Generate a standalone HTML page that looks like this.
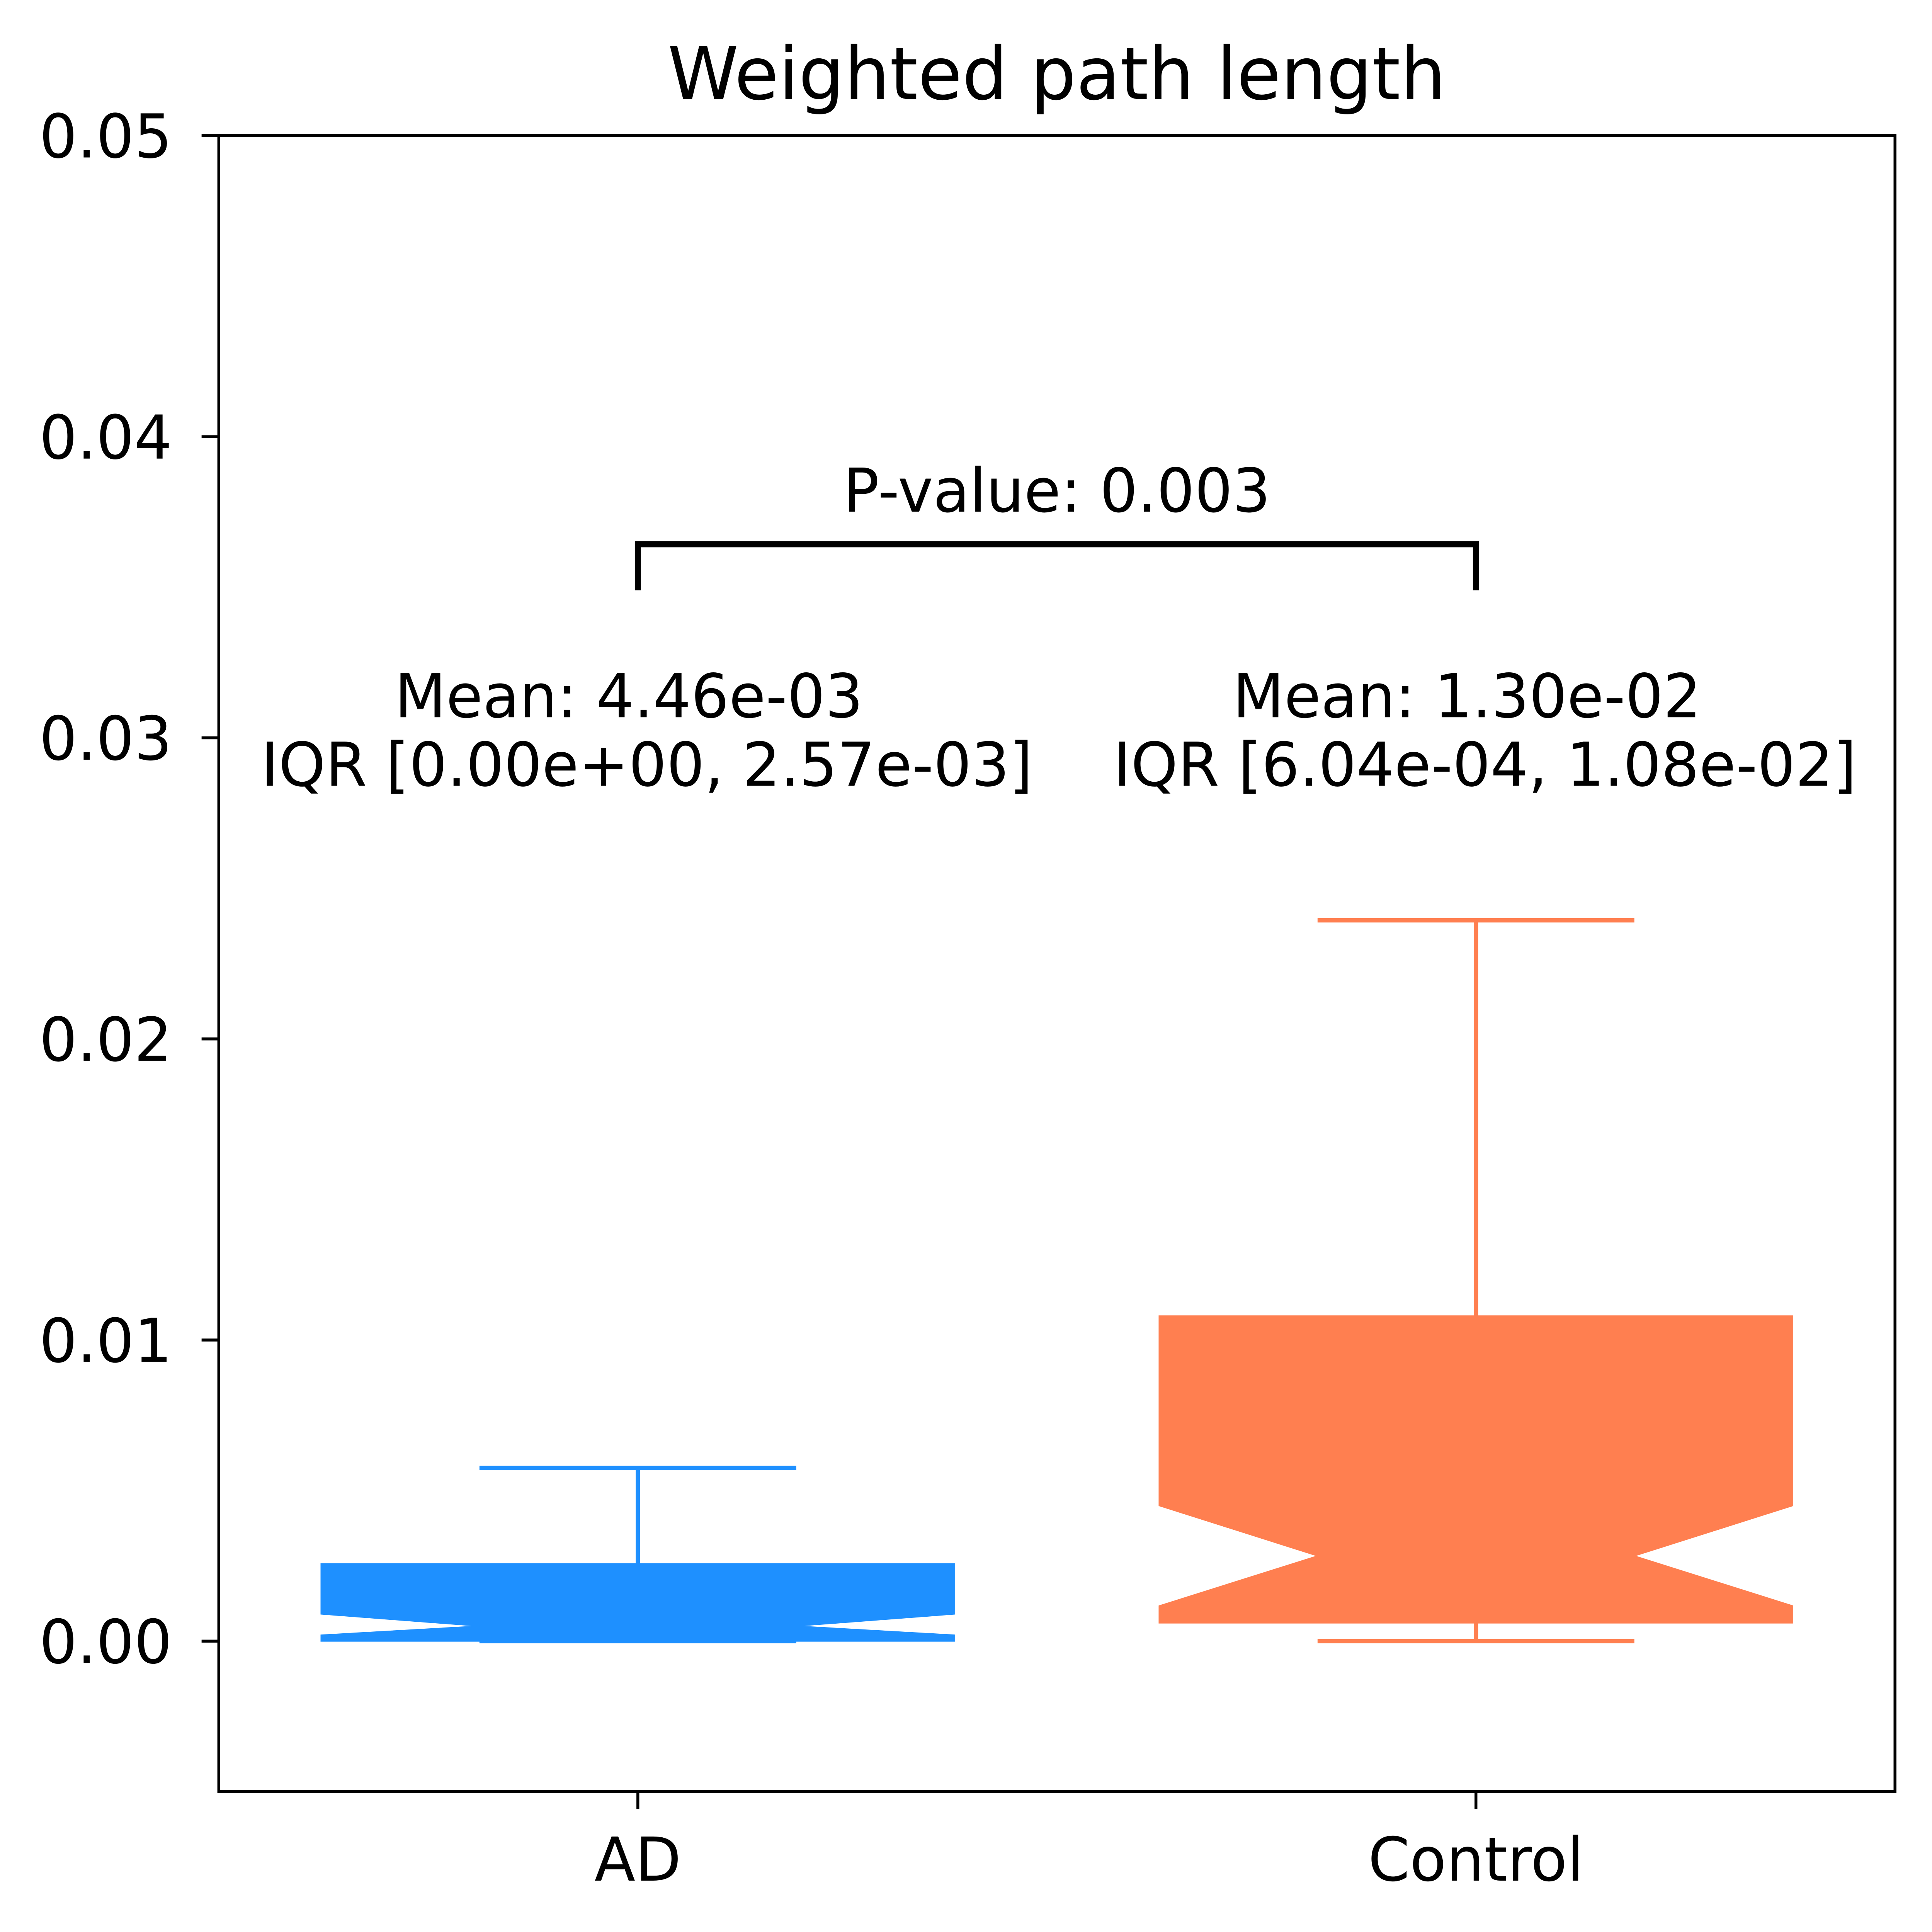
<!DOCTYPE html>
<html><head><meta charset="utf-8"><style>html,body{margin:0;padding:0;background:#fff;width:100%;height:100%;overflow:hidden}svg{display:block;position:fixed;left:0;top:0;width:100vw;height:100vh}text{font-family:"DejaVu Sans","Liberation Sans",sans-serif}</style></head>
<body>
<svg id="chart" viewBox="0 0 5377 5301" preserveAspectRatio="none" xmlns="http://www.w3.org/2000/svg">
<rect x="0" y="0" width="5377" height="5301" fill="#fff"/>
<text x="2941" y="272" font-size="200" text-anchor="middle">Weighted path length</text>
<g id="plot"></g>
</svg>
<script>
const categories = ["AD", "Control"];
const colors = ["#1E90FF", "#FF7F50"];
const q1 = [0.0, 0.000604];
const q3 = [0.00257, 0.0108];
const medians = [0.0005, 0.00283];
const notchLo = [0.0002, 0.00117];
const notchHi = [0.0009, 0.0045];
const whiskerLo = [0.0, 0.0];
const whiskerHi = [0.00575, 0.02394];
const meanLabels = ["Mean: 4.46e-03", "Mean: 1.30e-02"];
const iqrLabels = ["IQR [0.00e+00, 2.57e-03]", "IQR [6.04e-04, 1.08e-02]"];
const yTicks = [0, 0.01, 0.02, 0.03, 0.04, 0.05];
const yTickLabels = ["0.00", "0.01", "0.02", "0.03", "0.04", "0.05"];
const pLabel = "P-value: 0.003";
const bracketTop = 0.03643;
const bracketLeg = 0.0349;

const L = 609, R = 5274, T = 372, B = 4916;
const FS = 166;
const yMin = -0.005, yMax = 0.05;
function y(v){ return B - (v - yMin) / (yMax - yMin) * (B - T); }
function x(i){ return L + (i + 0.5) * (R - L) / 2; }
const unit = (R - L) / 2;
const half = 0.378 * unit, capHalf = half / 2;
const NS = "http://www.w3.org/2000/svg";
const g = document.getElementById('plot');
function mk(tag, attrs){ const e = document.createElementNS(NS, tag); for (const k in attrs) e.setAttribute(k, attrs[k]); g.appendChild(e); return e; }

categories.forEach((c, i) => {
  const cx = x(i), col = colors[i];
  let e = mk('line', {x1: cx, x2: cx, y1: y(q3[i]), y2: y(whiskerHi[i]), stroke: col, 'stroke-width': 12});
  
  
  e = mk('line', {x1: cx, x2: cx, y1: y(q1[i]), y2: y(whiskerLo[i]), stroke: col, 'stroke-width': 12});
  
  
  e = mk('line', {x1: cx - capHalf, x2: cx + capHalf, y1: y(whiskerHi[i]), y2: y(whiskerHi[i]), stroke: col, 'stroke-width': 12});
  
  
  e = mk('line', {x1: cx - capHalf, x2: cx + capHalf, y1: y(whiskerLo[i]), y2: y(whiskerLo[i]), stroke: col, 'stroke-width': 12});
  
  
  const l = cx - half, r = cx + half, nl = cx - capHalf, nr = cx + capHalf;
  const pts = [[l, y(q1[i])], [l, y(notchLo[i])], [nl, y(medians[i])], [l, y(notchHi[i])], [l, y(q3[i])],
    [r, y(q3[i])], [r, y(notchHi[i])], [nr, y(medians[i])], [r, y(notchLo[i])], [r, y(q1[i])]];
  e = mk('polygon', {points: pts.map(p => p.join(',')).join(' '), fill: col, stroke: col, 'stroke-width': 3});
  
  
  e = mk('text', {x: cx - 25, y: 1968, 'font-size': FS, 'text-anchor': 'middle'});
  e.textContent = meanLabels[i];
  
  
  e = mk('text', {x: cx + 25, y: 2156, 'font-size': FS, 'text-anchor': 'middle'});
  e.textContent = iqrLabels[i];
  
  
  e = mk('line', {x1: cx, x2: cx, y1: B, y2: B + 48, stroke: '#000', 'stroke-width': 8});
  
  
  e = mk('text', {x: cx, y: 5160, 'font-size': FS, 'text-anchor': 'middle'});
  e.textContent = c;
  
  
});

yTicks.forEach((v, i) => {
  let e = mk('line', {x1: L - 48, x2: L, y1: y(v), y2: y(v), stroke: '#000', 'stroke-width': 8});
  
  
  e = mk('text', {x: L - 130, y: y(v) + 60, 'font-size': FS, 'text-anchor': 'end'});
  e.textContent = yTickLabels[i];
  
  
});

let br = mk('polyline', {points: [[x(0), y(bracketLeg)], [x(0), y(bracketTop)], [x(1), y(bracketTop)], [x(1), y(bracketLeg)]].map(p => p.join(',')).join(' '), fill: 'none', stroke: '#000', 'stroke-width': 17});


let pt = mk('text', {x: (x(0) + x(1)) / 2, y: 1404, 'font-size': FS, 'text-anchor': 'middle'});
pt.textContent = pLabel;



let fr = mk('rect', {x: L, y: T, width: R - L, height: B - T, fill: 'none', stroke: '#000', 'stroke-width': 8});


</script>
</body></html>
